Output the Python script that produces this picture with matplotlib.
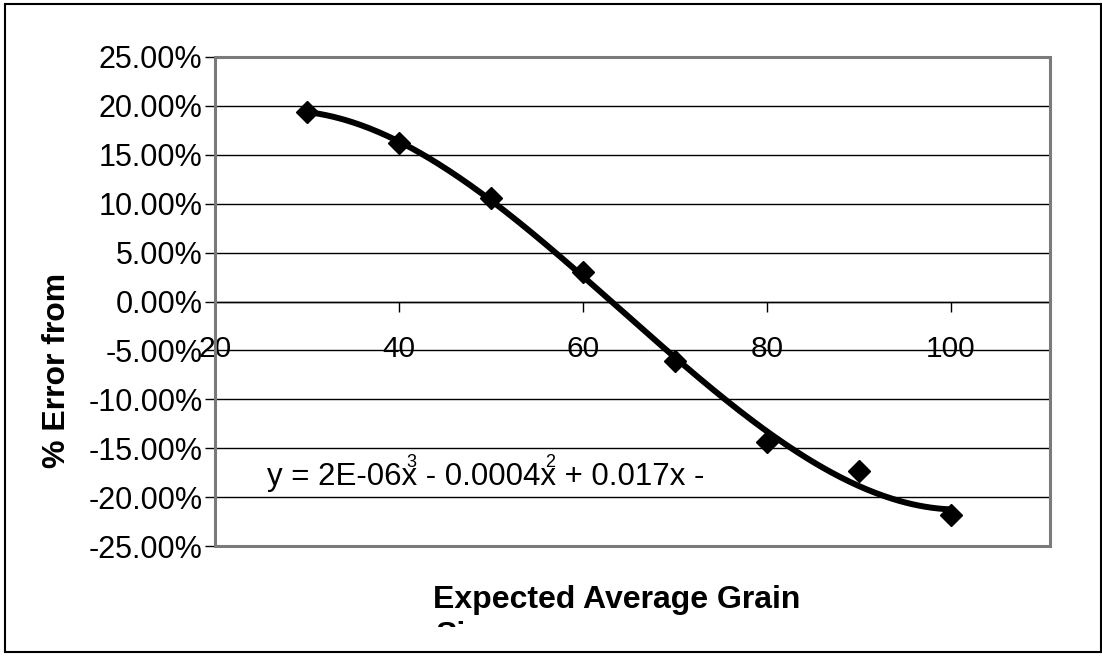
import numpy as np
import matplotlib
matplotlib.use('Agg')
import matplotlib.pyplot as plt
from matplotlib.patches import Rectangle
from matplotlib.ticker import FuncFormatter, FixedLocator
from matplotlib.transforms import Bbox

# ---- data ----
grain_size = [30, 40, 50, 60, 70, 80, 90, 100]
pct_error = [0.1933, 0.1625, 0.1058, 0.0297, -0.0609, -0.1439, -0.1729, -0.2180]
x_ticks = [20, 40, 60, 80, 100]
y_ticks = [-0.25, -0.20, -0.15, -0.10, -0.05, 0.0, 0.05, 0.10, 0.15, 0.20, 0.25]
eq_main = "y = 2E-06x - 0.0004x + 0.017x -"
eq_sup_prefixes = ["y = 2E-06x", "y = 2E-06x - 0.0004x"]
eq_sups = ["3", "2"]
x_label = "Expected Average Grain"
x_label2 = "Size"
y_label = "% Error from"

plt.rcParams['font.family'] = ['Liberation Sans', 'DejaVu Sans']

W, H = 1102, 656
fig = plt.figure(figsize=(W / 100, H / 100), dpi=100)


def fx(px):
    return px / W


def fy(py):
    return 1 - py / H


ax = fig.add_axes([fx(215), fy(546), fx(1050) - fx(215), fy(57) - fy(546)])
ax.set_xlim(20, 110.8)
ax.set_ylim(-0.25, 0.25)

# gridlines
ax.yaxis.set_major_locator(FixedLocator(y_ticks))
ax.xaxis.set_major_locator(FixedLocator(x_ticks))
ax.yaxis.grid(True, color='black', linewidth=1.0, zorder=0)
ax.set_axisbelow(True)

# spines
for s in ['top', 'right']:
    ax.spines[s].set_visible(False)
ax.spines['left'].set_color('black')
ax.spines['left'].set_linewidth(1.0)
ax.spines['bottom'].set_position(('data', 0))
ax.spines['bottom'].set_color('black')
ax.spines['bottom'].set_linewidth(1.0)

frame = Rectangle((0, 0), 1, 1, transform=ax.transAxes, fill=False,
                  edgecolor='#7a7a7a', linewidth=2.2, zorder=5, clip_on=False)
ax.add_patch(frame)

ax.yaxis.set_major_formatter(FuncFormatter(lambda v, p: f"{v * 100:.2f}%"))
ax.tick_params(axis='y', direction='out', length=7, width=1, pad=2,
               labelsize=22, colors='black')
ax.tick_params(axis='x', direction='out', length=7, width=1, pad=17,
               labelsize=21.5, colors='black')

# trendline (cubic polynomial fit of the data)
coef = np.polyfit(grain_size, pct_error, 3)
xs = np.linspace(min(grain_size), max(grain_size), 300)
ax.plot(xs, np.polyval(coef, xs), color='black', linewidth=4.3, zorder=3,
        solid_capstyle='round')

# data points
ax.plot(grain_size, pct_error, linestyle='none', marker='D', markersize=11,
        color='black', zorder=4)

# equation label
eq = fig.text(fx(267), fy(485), eq_main, fontsize=22.5, ha='left',
              va='baseline', color='black')
fig.canvas.draw()
renderer = fig.canvas.get_renderer()
for prefix, sup in zip(eq_sup_prefixes, eq_sups):
    tmp = fig.text(fx(267), fy(485), prefix, fontsize=22.5, ha='left',
                   va='baseline')
    bb = tmp.get_window_extent(renderer)
    tmp.remove()
    fig.text((bb.x1 - 11) / W, fy(467), sup, fontsize=13, ha='left',
             va='baseline', color='black')

# axis titles
fig.text(fx(617), fy(608), x_label, fontsize=23, fontweight='bold',
         ha='center', va='baseline', color='black')
t2 = fig.text(fx(435), fy(644), x_label2, fontsize=23, fontweight='bold',
              ha='left', va='baseline', color='black')
t2.set_clip_box(Bbox.from_extents(0, H - 627, W, H))
t2.set_clip_on(True)

fig.text(fx(57), fy(370), y_label, fontsize=23, fontweight='bold',
         rotation=90, ha='center', va='center', color='black')

# outer chart border
fig.patches.append(Rectangle((fx(5), fy(652)), fx(1101) - fx(5),
                             fy(4) - fy(652), transform=fig.transFigure,
                             fill=False, edgecolor='black', linewidth=1.5))

fig.savefig('out.png', dpi=100, facecolor='white')
